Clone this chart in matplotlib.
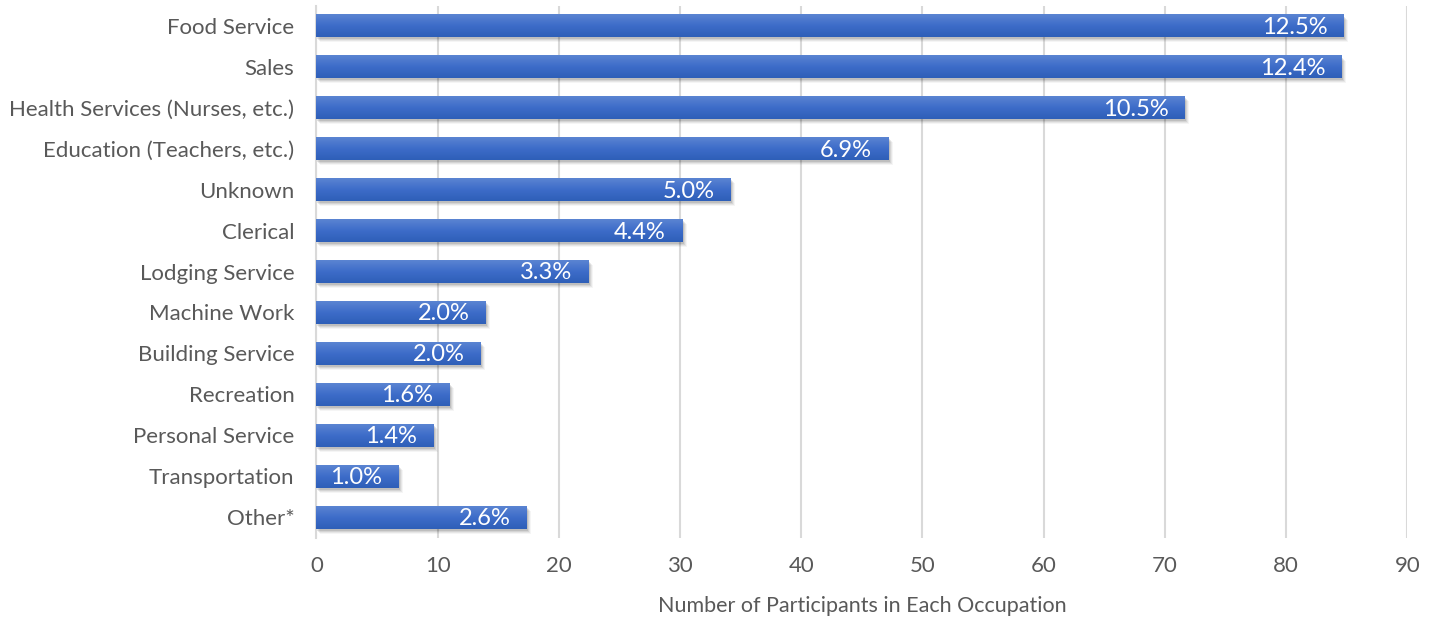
import numpy as np
import matplotlib
matplotlib.use("Agg")
import matplotlib.pyplot as plt
from matplotlib import transforms

# data
occupations = ['Food Service', 'Sales', 'Health Services (Nurses, etc.)',
               'Education (Teachers, etc.)', 'Unknown', 'Clerical',
               'Lodging Service', 'Machine Work', 'Building Service',
               'Recreation', 'Personal Service', 'Transportation', 'Other*']
participants = [84.8, 84.6, 71.7, 47.2, 34.2, 30.2, 22.5, 14.0, 13.6,
                11.0, 9.7, 6.8, 17.4]
percent_labels = ['12.5%', '12.4%', '10.5%', '6.9%', '5.0%', '4.4%', '3.3%',
                  '2.0%', '2.0%', '1.6%', '1.4%', '1.0%', '2.6%']
x_ticks = [0, 10, 20, 30, 40, 50, 60, 70, 80, 90]

plt.rcParams['font.family'] = ['Lato', 'DejaVu Sans']
text_color = '#595959'

fig = plt.figure(figsize=(14.36, 6.2), dpi=100)
ax = fig.add_axes([0.2204, 0.133, 0.7596, 0.858])

y = np.arange(len(occupations))
bar_h = 0.56

# soft drop shadow: a few offset, faint copies of the bars
for dx, dy, a in [(1, -2, 0.10), (2, -3, 0.08), (3, -4, 0.06), (4, -5, 0.04)]:
    tr = transforms.offset_copy(ax.transData, fig=fig, x=dx, y=dy, units='dots')
    ax.barh(y, participants, height=bar_h, color='black', alpha=a,
            transform=tr, zorder=2, linewidth=0)

# gradient fill for each bar (lighter at the top)
grad = np.linspace(0, 1, 64).reshape(-1, 1)
cmap = matplotlib.colors.LinearSegmentedColormap.from_list(
    'bar', ['#5b84d2', '#3d6cc9', '#2e5fb8'])
bars = ax.barh(y, participants, height=bar_h, color='#3a68c4',
               zorder=3, linewidth=0)
for bar in bars:
    x0, y0 = bar.get_x(), bar.get_y()
    w, h = bar.get_width(), bar.get_height()
    ax.imshow(grad, cmap=cmap, aspect='auto', origin='upper',
              extent=(x0, x0 + w, y0 + h, y0), zorder=4,
              interpolation='bicubic')

# value labels inside the bar ends
for yi, val, lab in zip(y, participants, percent_labels):
    ax.annotate(lab, xy=(val, yi), xytext=(-12, -1), textcoords='offset points',
                ha='right', va='center', color='white', fontsize=17, zorder=5)

ax.set_xlim(0, 90)
ax.set_ylim(len(occupations) - 0.5, -0.5)
ax.set_xticks(x_ticks)
ax.set_yticks(y)
ax.set_yticklabels(occupations)
ax.xaxis.grid(True, color='#d9d9d9', linewidth=1.5, zorder=0)
ax.set_axisbelow(True)
for s in ['top', 'right', 'bottom']:
    ax.spines[s].set_visible(False)
ax.spines['left'].set_color('#d9d9d9')
ax.spines['left'].set_linewidth(1.5)
ax.tick_params(axis='both', length=0, colors=text_color, labelsize=16)
ax.tick_params(axis='y', pad=16)
ax.tick_params(axis='x', pad=13)
ax.set_xlabel('Number of Participants in Each Occupation', color=text_color,
              fontsize=15.5, labelpad=15)

fig.savefig('out.png', dpi=100)
